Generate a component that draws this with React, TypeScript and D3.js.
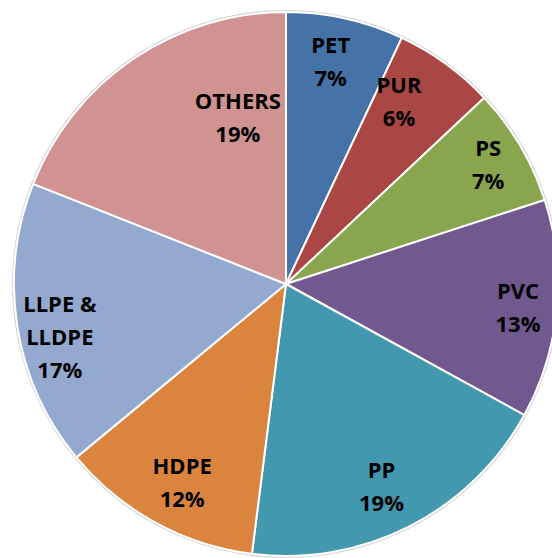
import React, { useEffect, useRef } from 'react';
import * as d3 from 'd3';

const categories = ['PET', 'PUR', 'PS', 'PVC', 'PP', 'HDPE', 'LLPE & LLDPE', 'OTHERS'];
const shares = [7, 6, 7, 13, 19, 12, 17, 19];
const colors = ['#4572A7', '#AA4643', '#89A54E', '#71588F', '#4198AF', '#DB843D', '#93A9CF', '#D19392'];
// label lines as they wrap in the picture
const labelLines = [['PET'], ['PUR'], ['PS'], ['PVC'], ['PP'], ['HDPE'], ['LLPE &', 'LLDPE'], ['OTHERS']];

export default function App() {
  const svgRef = useRef<SVGSVGElement>(null);

  useEffect(() => {
    if (!svgRef.current) return;
    drawChart();
  }, []);

  const drawChart = () => {
    const svg = d3.select(svgRef.current);
    svg.selectAll('*').remove();

    const width = 552;
    const height = 558;
    const cx = 286;
    const cy = 284;
    const radius = 272;

    svg.attr('width', width).attr('height', height);

    const data = categories.map((name, i) => ({ name, value: shares[i], color: colors[i], lines: labelLines[i] }));

    const pie = d3
      .pie<any>()
      .value((d) => d.value)
      .sort(null);

    const arc = d3.arc<any>().innerRadius(0).outerRadius(radius);
    const labelArc = d3.arc<any>().innerRadius(228).outerRadius(228);

    const g = svg.append('g').attr('transform', `translate(${cx},${cy})`);

    // soft edge around the pie
    g.append('circle')
      .attr('r', radius + 1)
      .attr('fill', 'none')
      .attr('stroke', '#d6d6d6')
      .attr('stroke-width', 2);

    g.selectAll('.slice')
      .data(pie(data))
      .enter()
      .append('path')
      .attr('class', 'slice')
      .attr('d', arc)
      .attr('fill', (d: any) => d.data.color)
      .attr('stroke', '#fff')
      .attr('stroke-width', 2)
      .attr('stroke-linejoin', 'round');

    // Excel "best fit" moves a few labels off the centroid
    const nudge: Record<string, [number, number]> = {
      PET: [-5, 0],
      PUR: [-21, 2],
      PS: [6, -3],
      PVC: [5, 2],
      PP: [-8, -1],
      HDPE: [6, -1],
      'LLPE & LLDPE': [-1, 17],
      OTHERS: [80, 22],
    };

    const lineH = 33;
    const labels = g
      .selectAll('.label')
      .data(pie(data))
      .enter()
      .append('text')
      .attr('class', 'label')
      .attr('text-anchor', 'middle')
      .style('font-family', '"Open Sans", sans-serif')
      .style('font-weight', 700)
      .style('font-size', '22px')
      .style('fill', '#000');

    labels.each(function (d: any) {
      const [x, y] = labelArc.centroid(d);
      const [nx, ny] = nudge[d.data.name] || [0, 0];
      const rows = [...d.data.lines, `${d.data.value}%`];
      const t = d3.select(this);
      rows.forEach((row: string, i: number) => {
        t.append('tspan')
          .attr('x', x + nx)
          .attr('y', y + ny + (i - (rows.length - 1) / 2) * lineH + 8)
          .text(row);
      });
    });
  };

  return (
    <svg ref={svgRef} style={{ position: 'fixed', top: 0, left: 0, background: '#fff' }}></svg>
  );
}
